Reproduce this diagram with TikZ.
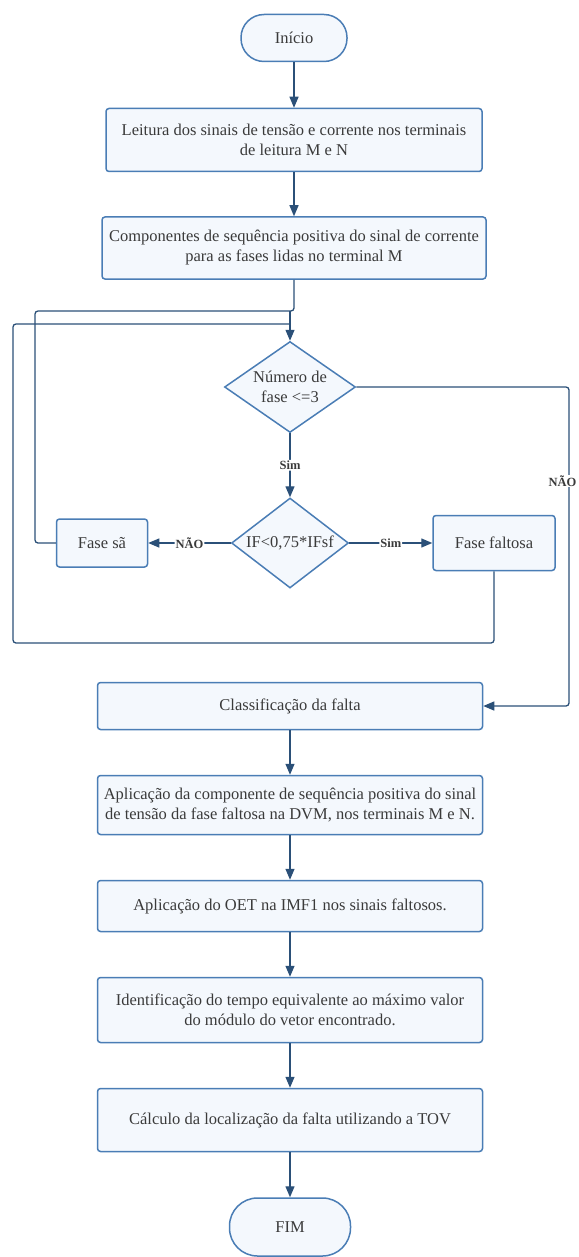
\documentclass[tikz,border=0pt]{standalone}
\usepackage{fontspec}
\setmainfont{Liberation Serif}
\usetikzlibrary{shapes.geometric,arrows.meta}
\definecolor{boxline}{HTML}{4A7DB5}
\definecolor{boxfill}{HTML}{F4F8FD}
\definecolor{wireline}{HTML}{2B5078}
\definecolor{txt}{HTML}{3A3A3A}
\begin{document}
\begin{tikzpicture}[x=1pt,y=-1pt,
		term/.style={draw=boxline,fill=boxfill,line width=1.5pt,rounded corners=23pt,minimum width=106pt,minimum height=47pt,text=txt,font=\fontsize{16.5}{20}\selectfont},
		proc/.style={draw=boxline,fill=boxfill,line width=1.5pt,rounded corners=3pt,minimum width=385pt,align=center,text=txt,font=\fontsize{16.5}{20}\selectfont},
		dec/.style={diamond,draw=boxline,fill=boxfill,line width=1.5pt,inner sep=-6pt,aspect=1.44,minimum width=131pt,minimum height=91pt,align=center,text=txt,font=\fontsize{16.5}{20}\selectfont},
		wire/.style={draw=wireline,line width=1.3pt,rounded corners=3pt},
		conn/.style={wire,-{Triangle[length=11pt,width=9pt]}},
		lbl/.style={fill=white,inner sep=1pt,text=txt,font=\bfseries\fontsize{12.5}{14}\selectfont}]
	\useasboundingbox (0,0) rectangle (578,1257);
	\node [term] (0) at (294,38) {Início};
	\node [proc,minimum width=376pt,minimum height=63pt] (1) at (294,140) {Leitura dos sinais de tensão e corrente nos terminais\\de leitura M e N};
	\node [proc,minimum width=384pt,minimum height=62pt] (2) at (294,248) {Componentes de sequência positiva do sinal de corrente\\para as fases lidas no terminal M};
	\node [dec] (3) at (290,387) {Número de\\fase <=3};
	\node [dec,minimum width=117pt,minimum height=90pt] (4) at (290,543) {IF<0,75*IFsf};
	\node [proc,minimum width=91pt,minimum height=48pt] (5) at (102,543) {Fase sã};
	\node [proc,minimum width=122pt,minimum height=55pt] (6) at (494,543) {Fase faltosa};
	\node [proc,minimum height=47pt] (7) at (290,706) {Classificação da falta};
	\node [proc,minimum height=59pt] (8) at (290,805) {Aplicação da componente de sequência positiva do sinal\\de tensão da fase faltosa na DVM, nos terminais M e N.};
	\node [proc,minimum height=51pt] (9) at (290,906) {Aplicação do OET na IMF1 nos sinais faltosos.};
	\node [proc,minimum height=65pt] (10) at (290,1010) {Identificação do tempo equivalente ao máximo valor\\do módulo do vetor encontrado.};
	\node [proc,minimum height=63pt] (11) at (290,1120) {Cálculo da localização da falta utilizando a TOV};
	\node [term,minimum width=121pt,minimum height=58pt,rounded corners=28pt] (12) at (290,1227) {FIM};
	% junctions of the loops
	\coordinate (j1) at (290,311);
	\coordinate (j2) at (290,324);
	\coordinate (c1) at (35,311);
	\coordinate (c2) at (13,643);
	\coordinate (c3) at (569,706);
	\draw [conn] (0) -- (1);
	\draw [conn] (1) -- (2);
	\draw [wire] (2.south) |- (j1);
	\draw [conn] (j1) -- (3.north);
	\draw [conn] (3.south) -- node [lbl] {Sim} (4.north);
	\draw [conn] (4.west) -- node [lbl] {NÃO} (5.east);
	\draw [conn] (4.east) -- node [lbl] {Sim} (6.west);
	\draw [wire] (5.west) -| (c1) -- (j1);
	\draw [wire] (6.south) |- (c2) |- (j2);
	\draw [conn] (3.east) -| (c3) -- (7.east);
	\node [lbl,anchor=east] (13) at (577.5,481) {NÃO};
	\draw [conn] (7) -- (8);
	\draw [conn] (8) -- (9);
	\draw [conn] (9) -- (10);
	\draw [conn] (10) -- (11);
	\draw [conn] (11) -- (12);
\end{tikzpicture}
\end{document}
